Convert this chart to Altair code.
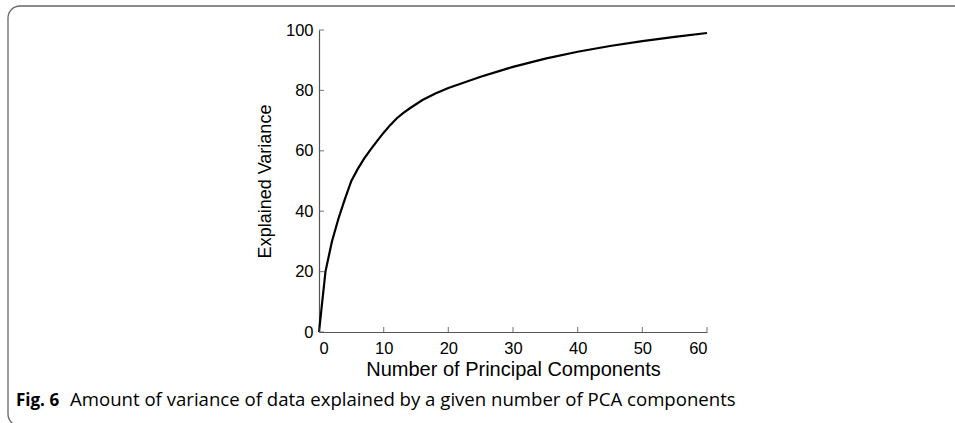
import altair as alt
import pandas as pd

components = [0, 1, 2, 3, 4, 5, 6, 7, 8, 9, 10, 11, 12, 13, 14, 16, 18, 20, 25, 30, 35, 40, 45, 50, 55, 60]
explained = [0, 20, 30, 37.5, 44, 50, 54, 57.5, 60.5, 63.3, 66, 68.5, 70.7, 72.5, 74, 76.8, 79, 80.8, 84.5, 87.8, 90.5, 92.8, 94.7, 96.3, 97.7, 99]
x_ticks = [0, 10, 20, 30, 40, 50, 60]
y_ticks = [0, 20, 40, 60, 80, 100]

W, H = 388, 302
LEFT, TOP = 319, 30

df = pd.DataFrame({"pc": components, "var": explained})
xt = pd.DataFrame({"t": x_ticks})
yt = pd.DataFrame({"t": y_ticks})

xscale = alt.Scale(domain=[0, 60], nice=False)
yscale = alt.Scale(domain=[0, 100], nice=False)
AX_FONT = "Liberation Sans"
AX_COLOR = "#555555"

x_axis = alt.Axis(
    title="Number of Principal Components", values=x_ticks, ticks=False,
    labelFont=AX_FONT, labelFontSize=16.5, labelColor="black", labelPadding=8,
    titleFont=AX_FONT, titleFontSize=20, titleFontWeight="normal", titleColor="black",
    titlePadding=3, domainColor=AX_COLOR, domainWidth=1.2, grid=False)
y_axis = alt.Axis(
    title="Explained Variance", values=y_ticks, ticks=False,
    labelFont=AX_FONT, labelFontSize=16.5, labelColor="black", labelPadding=6,
    titleFont=AX_FONT, titleFontSize=18, titleFontWeight="normal", titleColor="black",
    titlePadding=11, domainColor=AX_COLOR, domainWidth=1.2, grid=False)

line = alt.Chart(df).mark_line(color="black", strokeWidth=2.2).encode(
    x=alt.X("pc:Q", scale=xscale, axis=x_axis),
    y=alt.Y("var:Q", scale=yscale, axis=y_axis),
)

xtick = alt.Chart(xt).mark_tick(orient="vertical", color=AX_COLOR, thickness=1.2, size=5).encode(
    x=alt.X("t:Q", scale=xscale, axis=x_axis), y=alt.value(H - 2.5)
)
ytick = alt.Chart(yt).mark_tick(orient="horizontal", color=AX_COLOR, thickness=1.2, size=5).encode(
    y=alt.Y("t:Q", scale=yscale, axis=y_axis), x=alt.value(2.5)
)

border = alt.Chart(pd.DataFrame({"a": [0]})).mark_rect(
    fill=None, stroke="#666666", strokeWidth=1.3, cornerRadius=12, clip=False
).encode(
    x=alt.value(8 - LEFT), x2=alt.value(980 - LEFT),
    y=alt.value(6 - TOP), y2=alt.value(426 - TOP)
)

cap1 = alt.Chart(pd.DataFrame({"s": ["Fig. 6"]})).mark_text(
    font="Open Sans", fontSize=17, fontWeight="bold", align="left", baseline="alphabetic", color="black"
).encode(text="s:N", x=alt.value(16 - LEFT), y=alt.value(406 - TOP))

cap2 = alt.Chart(pd.DataFrame({"s": ["Amount of variance of data explained by a given number of PCA components"]})).mark_text(
    font="Open Sans", fontSize=18.6, align="left", baseline="alphabetic", color="black"
).encode(text="s:N", x=alt.value(70 - LEFT), y=alt.value(406 - TOP))

chart = alt.layer(border, line, xtick, ytick, cap1, cap2).properties(
    width=W, height=H,
    background="white",
    autosize=alt.AutoSizeParams(type="none"),
    padding={"left": LEFT, "top": TOP, "right": 955 - LEFT - W, "bottom": 423 - TOP - H},
).configure_view(stroke=None).configure_axis(grid=False)

chart.save("out.html", embed_options={"renderer": "svg", "actions": False})
